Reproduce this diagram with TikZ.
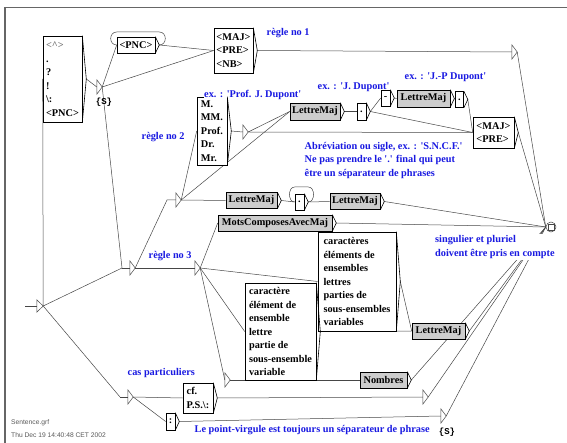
\documentclass[tikz,border=0pt]{standalone}
\usepackage{fontspec}
\setmainfont{Liberation Serif}
\setsansfont{Liberation Sans}
\setmonofont{Liberation Mono}
\usetikzlibrary{backgrounds}
\definecolor{cblue}{RGB}{25,25,225}
\definecolor{boxgray}{RGB}{205,205,205}
\definecolor{linecol}{RGB}{70,70,70}
\newcommand\q{\textquotesingle}
\begin{document}
\begin{tikzpicture}[x=1pt,y=-1pt,
  every node/.style={font=\fontsize{10.3}{13.5}\selectfont\bfseries},
  box/.style={draw=black, line width=0.6pt, fill=white, inner sep=0pt, align=left},
  sub/.style={box, fill=boxgray},
  eps/.style={inner sep=0pt, minimum width=5pt, minimum height=14pt},
  cmt/.style={text=cblue, inner sep=0.5pt, align=left, anchor=west},
  sfont/.style={font=\ttfamily\bfseries\fontsize{9}{10}\selectfont},
  trans/.style={draw=linecol, line width=0.5pt},
]
\useasboundingbox (0,0) rectangle (567,443);
\draw[line width=1.5pt, black!60] (5,443) -- (5,7.5) -- (567,7.5);

% ---- nodes ----
\node[eps, minimum width=6pt, minimum height=12pt] (e0) at (40,306) {};
\coordinate (e0l) at (25,306);
\node[box, minimum width=39pt, minimum height=86pt] (l1) at (62.5,79) {{\color{black!55}<\textasciicircum>}\\.\\?\\!\\\textbackslash:\\<PNC>};
\node[eps] (e1) at (99.5,87) {};
\node[sfont] (s1) at (104,102) {\{S\}};
\node[box, minimum width=38pt, minimum height=16pt] (pnc) at (136,45) {<PNC>};
\node[box, minimum width=39pt, minimum height=45pt] (maj1) at (233.5,50.5) {<MAJ>\\<PRE>\\<NB>};
\node[cmt] (r1) at (266,33) {règle no 1};
\node[eps] (e10) at (514.5,52) {};
\node[circle, draw=linecol, line width=0.5pt, minimum size=10pt, inner sep=0pt, fill=white] (fin) at (551,227) {};

\node[box, minimum width=30pt, minimum height=68pt] (bx) at (212,131) {M.\\MM.\\Prof.\\Dr.\\Mr.};
\node[cmt, fill=white, inner sep=0pt] (exprof) at (204,94.5) {ex. : \q Prof. J. Dupont\q};
\node[cmt] (r2) at (141,137) {règle no 2};
\node[eps] (e6) at (245.5,132) {};
\node[sub, minimum width=50pt, minimum height=17pt] (lm1) at (315,111.5) {LettreMaj};
\node[box, minimum width=9pt, minimum height=17pt] (d1) at (361.5,111.5) {.};
\node[cmt] (exj) at (317,87) {ex. : \q J. Dupont\q};
\node[box, minimum width=9pt, minimum height=16pt] (ds) at (385.5,98) {-};
\node[sub, minimum width=53pt, minimum height=17pt] (lm3) at (423.5,98.5) {LettreMaj};
\node[box, minimum width=8pt, minimum height=16pt] (d2) at (459.5,99.5) {.};
\node[cmt] (exjp) at (404,77) {ex. : \q J.-P Dupont\q};
\node[box, minimum width=41pt, minimum height=31pt] (maj2) at (493.5,132.5) {<MAJ>\\<PRE>};
\node[cmt] (abr) at (304,160.5) {Abréviation ou sigle, ex. : \q S.N.C.F.\q\\Ne pas prendre le \q.\q{} final qui peut\\être un séparateur de phrases};

\node[eps] (e2) at (178.5,200) {};
\coordinate (e2in) at (167,200);
\node[eps] (e3) at (132.5,268) {};
\coordinate (e3in) at (122,268);
\node[cmt] (r3) at (148,256) {règle no 3};
\node[eps] (e4) at (197.5,268) {};
\node[sub, minimum width=51pt, minimum height=16pt] (lm4) at (251.5,200.5) {LettreMaj};
\node[box, minimum width=9pt, minimum height=16pt] (d3) at (299.5,202) {.};
\node[sub, minimum width=50pt, minimum height=16pt] (lm5) at (355,201.5) {LettreMaj};
\node[sub, minimum width=114pt, minimum height=16pt] (mcm) at (275,223) {MotsComposesAvecMaj};
\node[box, minimum width=78pt, minimum height=99pt] (bx2) at (357,281.5) {caractères\\éléments de\\ensembles\\lettres\\parties de\\sous-ensembles\\variables};
\node[box, minimum width=71pt, minimum height=97pt] (bx1) at (280.5,331.5) {caractère\\élément de\\ensemble\\lettre\\partie de\\sous-ensemble\\variable};
\node[sub, minimum width=53pt, minimum height=16pt] (lm2) at (438.5,331) {LettreMaj};
\node[eps] (e5) at (227.5,380) {};
\node[sub, minimum width=47pt, minimum height=16pt] (nomb) at (383.5,380) {Nombres};
\node[cmt] (cas) at (127,373) {cas particuliers};
\node[eps] (e9) at (130.5,397) {};
\coordinate (e9in) at (120,397);
\node[box, minimum width=30pt, minimum height=30pt] (cf) at (198,398) {cf.\\P.S.\textbackslash:};
\node[box, minimum width=9pt, minimum height=17pt] (col) at (170.5,421.5) {:};
\node[eps] (e7) at (425.5,397) {};
\node[eps] (e8) at (443.5,416) {};
\node[sfont] (s2) at (447,432) {\{S\}};
\node[cmt] (pv) at (194,430) {Le point-virgule est toujours un séparateur de phrase};
\node[font=\sffamily\mdseries\fontsize{6.7}{12.5}\selectfont, text=black!65, anchor=west, align=left, inner sep=0pt] (info) at (11,428.5) {Sentence.grf\\Thu Dec 19 14:40:48 CET 2002};

% triangles of empty boxes
\foreach \n in {e0,e1,e2,e3,e4,e5,e6,e7,e8,e9,e10}
  \draw[trans] (\n.north west) -- (\n.east) -- (\n.south west) -- cycle;
% output chevrons
\foreach \n in {l1,pnc,maj1,bx,lm1,d1,ds,lm3,d2,maj2,lm4,d3,lm5,mcm,bx2,bx1,lm2,nomb,cf,col}{
  \draw[line width=0.6pt] (\n.north east) -- ([xshift=4pt]\n.east) -- (\n.south east);
  \coordinate (\n-out) at ([xshift=4pt]\n.east);
}
\draw[trans] ([shift={(-3pt,-3pt)}]fin.center) rectangle ([shift={(3pt,3pt)}]fin.center);

% comment over lines
\node[cmt, fill=white, inner sep=2pt] (sing) at (433,247) {singulier et pluriel\\doivent être pris en compte};

% ---- transitions ----
\begin{scope}[on background layer]
\draw[trans] (e0l) -- (e0.west);
\draw[trans] (e0.east) -- (l1.west);
\draw[trans] (e0.east) -- (e3in);
\draw[trans] (e0.east) -- (e9in);
\draw[trans] (l1-out) -- (e1.west);
\draw[trans] (e1.east) -- (pnc.west);
\draw[trans] (e1.east) -- (maj1.west);
\draw[trans] (e1.east) -- (e3in);
\draw[trans] (pnc-out) -- (maj1.west);
\draw[trans] (pnc-out) .. controls ([xshift=8pt]pnc-out) and ([shift={(8pt,13pt)}]pnc-out) .. ([yshift=13pt]pnc-out)
   -- ([yshift=13pt]pnc.west) .. controls ([shift={(-8pt,13pt)}]pnc.west) and ([xshift=-8pt]pnc.west) .. (pnc.west);
\draw[trans] (maj1-out) -- (e10.west);
\draw[trans] (e10.east) -- (fin.west);
\draw[trans] (e3in) -- (e3.west);
\draw[trans] (e3.east) -- (e4.west);
\draw[trans] (e3.east) -- (e2in) -- (e2.west);
\draw[trans] (e2.east) -- (bx.west);
\draw[trans] (e2.east) -- (lm1.west);
\draw[trans] (e2.east) -- (lm4.west);
\draw[trans] (bx-out) -- (e6.west);
\draw[trans] (e6.east) -- (lm1.west);
\draw[trans] (e6.east) -- (maj2.west);
\draw[trans] (lm1-out) -- (d1.west);
\draw[trans] (d1-out) -- (ds.west);
\draw[trans] (d1-out) -- (maj2.west);
\draw[trans] (ds-out) -- (lm3.west);
\draw[trans] (lm3-out) -- (d2.west);
\draw[trans] (d2-out) -- (maj2.west);
\draw[trans] (maj2-out) -- (fin.west);
\draw[trans] (lm4-out) -- (d3.west);
\draw[trans] (d3-out) .. controls ([xshift=7pt]d3-out) and ([shift={(7pt,15pt)}]d3-out) .. ([yshift=15pt]d3-out)
   -- ([yshift=15pt]d3.west) .. controls ([shift={(-7pt,15pt)}]d3.west) and ([xshift=-7pt]d3.west) .. (d3.west);
\draw[trans] (d3-out) -- (lm5.west);
\draw[trans] (lm5-out) -- (fin.west);
\draw[trans] (e4.east) -- (mcm.west);
\draw[trans] (e4.east) -- (bx2.west);
\draw[trans] (e4.east) -- (bx1.west);
\draw[trans] (e4.east) -- (e5.west);
\draw[trans] (mcm-out) -- (fin.west);
\draw[trans] (bx2-out) -- (lm2.west);
\draw[trans] (bx1-out) -- (lm2.west);
\draw[trans] (lm2-out) -- (fin.west);
\draw[trans] (e5.east) -- (nomb.west);
\draw[trans] (nomb-out) -- (fin.west);
\draw[trans] (e9in) -- (e9.west);
\draw[trans] (e9.east) -- (cf.west);
\draw[trans] (e9.east) -- (col.west);
\draw[trans] (cf-out) -- (e7.west);
\draw[trans] (col-out) -- (e8.west);
\draw[trans] (e7.east) -- (fin.west);
\draw[trans] (e8.east) -- (fin.west);
\end{scope}
\end{tikzpicture}
\end{document}
